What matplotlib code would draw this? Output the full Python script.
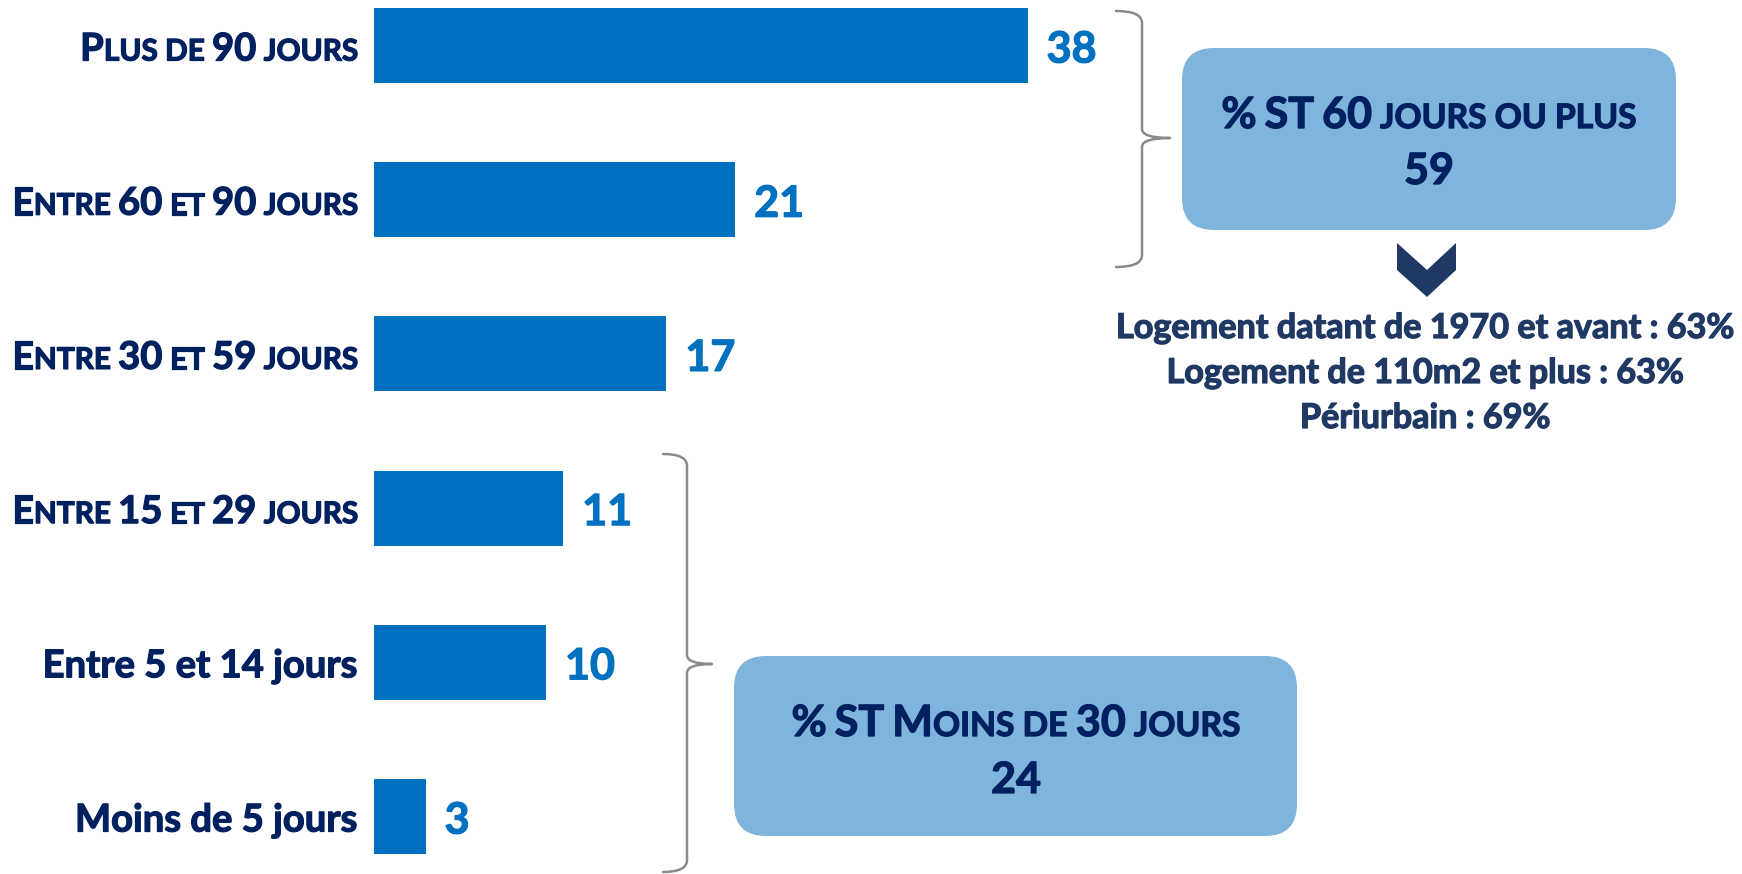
import matplotlib
matplotlib.use("Agg")
import matplotlib.pyplot as plt
import matplotlib.patheffects as pe
from matplotlib.font_manager import FontProperties
from matplotlib.patches import FancyBboxPatch, Polygon, PathPatch
from matplotlib.path import Path

# data
categories = ["Plus de 90 jours", "Entre 60 et 90 jours", "Entre 30 et 59 jours",
              "Entre 15 et 29 jours", "Entre 5 et 14 jours", "Moins de 5 jours"]
small_caps = [True, True, True, True, False, False]
values = [38, 21, 17, 11, 10, 3]

group_titles = ["% ST 60 jours ou plus", "% ST Moins de 30 jours"]
group_totals = [59, 24]
details = ["Logement datant de 1970 et avant : 63%",
           "Logement de 110m2 et plus : 63%",
           "Périurbain : 69%"]

FONT = "Lato"
BAR = "#0070C0"
NAVY = "#002060"
NAVY2 = "#1F3864"
BOXC = "#7FB4DD"
GREY = "#8A8A8A"

W, H = 1742, 874
fig = plt.figure(figsize=(W / 100, H / 100), dpi=100)

# bar axes: 0 at x=374px, 17.2 px per unit, bars 154.2 px apart
x0, scale = 374, 17.2
pitch, y_first = 154.2, 45.5
ax = fig.add_axes([0, 0, 1, 1])
ax.set_xlim(-x0 / scale, (W - x0) / scale)
ax.set_ylim((H - y_first) / pitch, -y_first / pitch)
ax.axis("off")
ypos = list(range(len(values)))
ax.barh(ypos, values, height=0.486, color=BAR)

# overlay in pixel coords
ov = fig.add_axes([0, 0, 1, 1], zorder=3)
ov.set_xlim(0, W)
ov.set_ylim(H, 0)
ov.axis("off")
ov.patch.set_alpha(0)

renderer = fig.canvas.get_renderer()


def run_width(s, size):
    fp = FontProperties(family=FONT, weight="bold", size=size)
    w1, _, _ = renderer.get_text_width_height_descent("|" + s + "|", fp, False)
    w0, _, _ = renderer.get_text_width_height_descent("||", fp, False)
    return w1 - w0


def caps_runs(text, size, sc=True, ratio=0.78):
    if not sc:
        return [(text, size)]
    runs = []
    for ch in text:
        if ch.islower() or ch == " ":
            piece, s = ch.upper(), size * ratio
        else:
            piece, s = ch, size
        if runs and runs[-1][1] == s:
            runs[-1] = (runs[-1][0] + piece, s)
        else:
            runs.append((piece, s))
    return runs


def draw_runs(x, y, runs, color, ha="center"):
    widths = [run_width(s, sz) for s, sz in runs]
    total = sum(widths)
    if ha == "right":
        x = x - total
    elif ha == "center":
        x = x - total / 2
    for (s, sz), w in zip(runs, widths):
        ov.text(x, y, s, fontsize=sz, family=FONT, fontweight="bold",
                color=color, ha="left", va="baseline",
                path_effects=[pe.withStroke(linewidth=0.9, foreground=color)])
        x += w


def px_y(i):
    return y_first + i * pitch


# category labels and values
for i, (cat, sc, v) in enumerate(zip(categories, small_caps, values)):
    yb = px_y(i) + 15
    draw_runs(358, yb, caps_runs(cat, 27.5, sc), NAVY, ha="right")
    xv = x0 + v * scale + 19
    draw_runs(xv, yb + 2, [(str(v), 31)], BAR, ha="left")


def brace(xe, xv, xt, ytop, ymid, ybot, r=12, rm=9):
    verts = [(xe, ytop), (xv, ytop), (xv, ytop + r),
             (xv, ymid - rm), (xv, ymid), (xt, ymid),
             (xv, ymid), (xv, ymid + rm),
             (xv, ybot - r), (xv, ybot), (xe, ybot)]
    codes = [Path.MOVETO, Path.CURVE3, Path.CURVE3,
             Path.LINETO, Path.CURVE3, Path.CURVE3,
             Path.CURVE3, Path.CURVE3,
             Path.LINETO, Path.CURVE3, Path.CURVE3]
    ov.add_patch(PathPatch(Path(verts, codes), fill=False, ec=GREY, lw=1.8,
                           capstyle="round", joinstyle="round"))


brace(1116, 1142, 1170, 11, 138, 267)
brace(663, 687, 712, 454, 664, 872)

# group boxes
boxes = [(1182, 48, 494, 182, 1429, 128, 184),
         (734, 656, 563, 180, 1016, 736, 793)]
for (bx, by, bw, bh, cx, yl1, yl2), title, tot in zip(boxes, group_titles, group_totals):
    ov.add_patch(FancyBboxPatch((bx, by), bw, bh,
                                boxstyle="round,pad=0,rounding_size=32",
                                fc=BOXC, ec="none"))
    draw_runs(cx, yl1, caps_runs(title, 31), NAVY)
    draw_runs(cx, yl2, [(str(tot), 31)], NAVY)

# chevron
ov.add_patch(Polygon([(1397, 243), (1427, 270), (1456, 243), (1456, 270),
                      (1427, 297), (1397, 270)], closed=True, fc=NAVY2, ec="none"))

for k, line in enumerate(details):
    draw_runs(1425, 338 + k * 45, [(line, 24.6)], NAVY2)

fig.savefig("out.png", dpi=100)
